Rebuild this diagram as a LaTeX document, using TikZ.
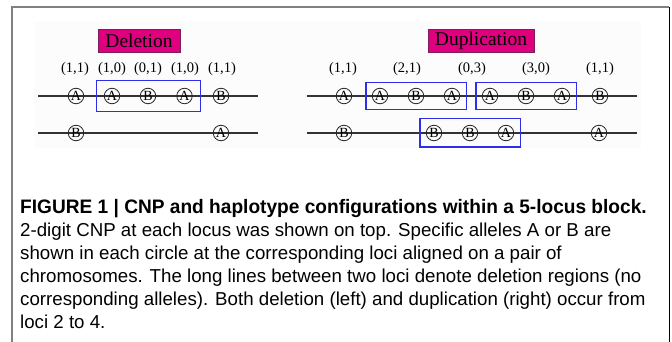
\documentclass[tikz,border=0pt]{standalone}
\usepackage{fontspec}
\setmainfont{Liberation Serif}
\newfontfamily\capfont{Liberation Sans}
\usetikzlibrary{fit}

\definecolor{labelpink}{HTML}{E0007F}
\definecolor{labeledge}{HTML}{7A1F5C}
\definecolor{boxblue}{HTML}{2E2EE8}
\definecolor{framegray}{HTML}{808080}

\begin{document}
\begin{tikzpicture}[x=1pt,y=-1pt,
  allele/.style={circle,draw=black!85,line width=0.8pt,minimum size=15.5pt,
    inner sep=0pt,font=\fontsize{14}{14}\selectfont},
  chrom/.style={line width=1.5pt,black!80},
  cnp/.style={inner sep=0pt,font=\fontsize{14.5}{14.5}\selectfont},
  eventlabel/.style={draw=labeledge,fill=labelpink,line width=0.8pt,
    inner sep=0pt,minimum height=23pt,font=\fontsize{19.5}{19.5}\selectfont},
  groupbox/.style={draw=boxblue,line width=1.3pt,inner xsep=6pt,inner ysep=6pt},
  captxt/.style={anchor=base west,inner sep=0pt,
    font=\capfont\fontsize{18.7}{23}\selectfont}
]
\useasboundingbox (0,0) rectangle (672,342);

% page frame: grey on the left and top, thin black on the right
\draw[framegray,line width=2pt] (12,342) -- (12,7.5) -- (669,7.5);
\draw[black,line width=1pt] (669,7.5) -- (669,342);

% faint panel behind the two schemes
\fill[black!1] (34,22) rectangle (641,148);

% ---------- deletion ----------
\node[eventlabel,minimum width=82pt] (dellab) at (139,40.5) {Deletion};

\foreach \x/\t [count=\i] in {75/{(1,1)},112/{(1,0)},148/{(0,1)},185/{(1,0)},222/{(1,1)}}
  \node[cnp] (dc\i) at (\x,69) {\t};

\coordinate (dl1a) at (38,96);  \coordinate (dl1b) at (258,96);
\coordinate (dl2a) at (38,133); \coordinate (dl2b) at (258,133);
\draw[chrom] (dl1a) -- (dl1b);
\draw[chrom] (dl2a) -- (dl2b);

\foreach \x/\t [count=\i] in {76/A,112/A,148/B,184.5/A,221/B}
  \node[allele] (da\i) at (\x,96) {\t};
\node[allele] (db1) at (76,133) {B};
\node[allele] (db5) at (221,133) {A};

\node[groupbox,inner xsep=7.5pt,inner ysep=7.5pt,fit=(da2)(da4)] (delbox) {};

% ---------- duplication ----------
\node[eventlabel,minimum width=106pt] (duplab) at (481,40.5) {Duplication};

\foreach \x/\t [count=\i] in {343/{(1,1)},407/{(2,1)},472/{(0,3)},536/{(3,0)},600/{(1,1)}}
  \node[cnp] (uc\i) at (\x,69) {\t};

\coordinate (ul1a) at (307,96);  \coordinate (ul1b) at (637,96);
\coordinate (ul2a) at (307,133); \coordinate (ul2b) at (637,133);
\draw[chrom] (ul1a) -- (ul1b);
\draw[chrom] (ul2a) -- (ul2b);

\foreach \x/\t [count=\i] in {344/A,380/A,416/B,452/A,490/A,526/B,562/A,600/B}
  \node[allele] (ua\i) at (\x,96) {\t};
\foreach \x/\t [count=\i] in {344/B,434/B,470/B,506/A,599/A}
  \node[allele] (ub\i) at (\x,133) {\t};

\node[groupbox,inner ysep=5.5pt,fit=(ua2)(ua4)] (dupboxa) {};
\node[groupbox,inner ysep=5.5pt,fit=(ua5)(ua7)] (dupboxb) {};
\node[groupbox,fit=(ub2)(ub4)] (dupboxc) {};

% ---------- caption ----------
\node[captxt] (cap0) at (20,213)
  {\scalebox{0.98}[1]{\fontsize{19.5}{23}\selectfont\bfseries FIGURE 1 | CNP and haplotype configurations within a 5-locus block.}};
\node[captxt] (cap1) at (20,236) {2-digit CNP at each locus was shown on top. Specific alleles A or B are};
\node[captxt] (cap2) at (20,259) {shown in each circle at the corresponding loci aligned on a pair of};
\node[captxt] (cap3) at (20,282) {chromosomes. The long lines between two loci denote deletion regions (no};
\node[captxt] (cap4) at (20,305) {corresponding alleles). Both deletion (left) and duplication (right) occur from};
\node[captxt] (cap5) at (20,328) {loci 2 to 4.};
\end{tikzpicture}
\end{document}
